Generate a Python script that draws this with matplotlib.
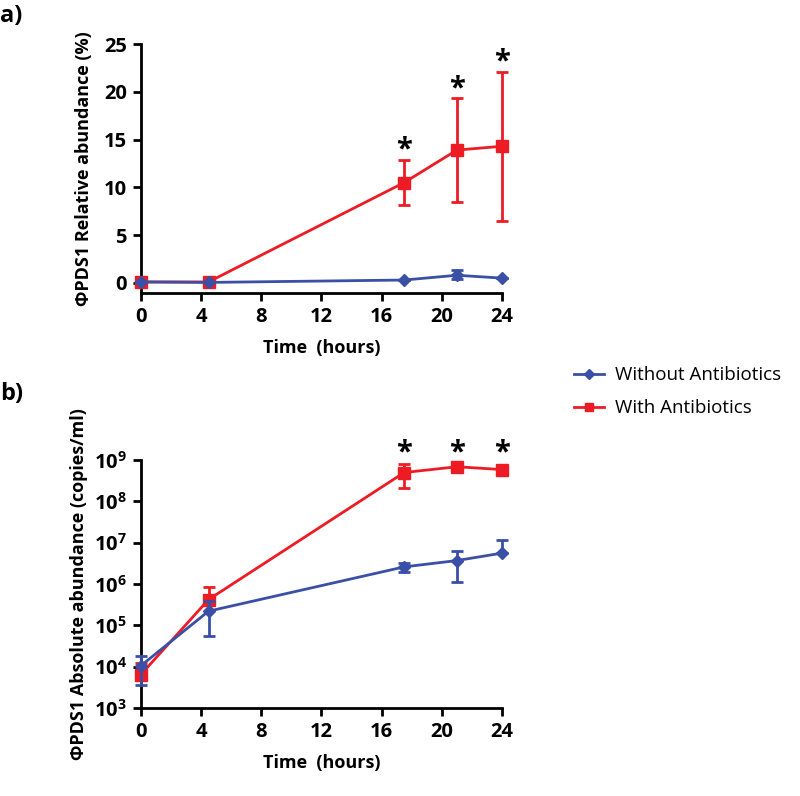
import matplotlib.pyplot as plt
from matplotlib.lines import Line2D

plt.rcParams['font.family'] = ['Open Sans', 'DejaVu Sans']
plt.rcParams['mathtext.fontset'] = 'custom'
plt.rcParams['mathtext.bf'] = 'Open Sans:bold'
plt.rcParams['mathtext.rm'] = 'Open Sans'

time = [0, 4.5, 17.5, 21, 24]

# a) relative abundance (%)
rel_with = [0.1, 0.1, 10.5, 13.9, 14.3]
rel_with_lo = [0.1, 0.1, 8.1, 8.5, 6.5]
rel_with_hi = [0.1, 0.1, 12.9, 19.3, 22.1]
rel_without = [0.1, 0.05, 0.3, 0.8, 0.5]
rel_without_lo = [0.1, 0.05, 0.3, 0.4, 0.5]
rel_without_hi = [0.1, 0.05, 0.3, 1.3, 0.5]

# b) absolute abundance (copies/ml)
abs_with = [6.4e3, 4.2e5, 5.0e8, 6.9e8, 5.9e8]
abs_with_lo = [5.0e3, 3.2e5, 2.1e8, 6.9e8, 5.9e8]
abs_with_hi = [1.25e4, 8.7e5, 8.0e8, 6.9e8, 5.9e8]
abs_without = [1.05e4, 2.2e5, 2.6e6, 3.7e6, 5.6e6]
abs_without_lo = [3.5e3, 5.6e4, 2.0e6, 1.15e6, 5.6e6]
abs_without_hi = [1.8e4, 3.8e5, 3.3e6, 6.3e6, 1.17e7]

star_idx = [2, 3, 4]

red = '#ED1C24'
blue = '#3A4FA6'

fig = plt.figure(figsize=(8, 7.96), dpi=100)
ax1 = fig.add_axes([0.176, 0.632, 0.4515, 0.3127])
ax2 = fig.add_axes([0.176, 0.1106, 0.4515, 0.3114])


def errs(v, lo, hi):
    return [[a - b for a, b in zip(v, lo)], [b - a for a, b in zip(v, hi)]]


def style(ax):
    for s in ['top', 'right']:
        ax.spines[s].set_visible(False)
    for s in ['left', 'bottom']:
        ax.spines[s].set_linewidth(2)
    ax.tick_params(width=2, length=6, labelsize=14.5, pad=4)
    ax.tick_params(which='minor', length=0)
    for lab in ax.get_xticklabels() + ax.get_yticklabels():
        lab.set_fontweight('bold')
    ax.set_xlim(0, 24)
    ax.set_xticks([0, 4, 8, 12, 16, 20, 24])
    ax.set_xlabel('Time  (hours)', fontsize=13, fontweight='bold', labelpad=9)


for ax, w, wlo, whi, wo, wolo, wohi in [
        (ax1, rel_with, rel_with_lo, rel_with_hi, rel_without, rel_without_lo, rel_without_hi),
        (ax2, abs_with, abs_with_lo, abs_with_hi, abs_without, abs_without_lo, abs_without_hi)]:
    ax.errorbar(time, w, yerr=errs(w, wlo, whi), color=red, marker='s', ms=8,
                lw=2, elinewidth=2, capsize=4, capthick=2, clip_on=False, zorder=3)
    ax.errorbar(time, wo, yerr=errs(wo, wolo, wohi), color=blue, marker='D', ms=6,
                lw=2, elinewidth=2, capsize=4, capthick=2, clip_on=False, zorder=4)

ax1.set_ylim(-1.05, 25)
ax1.set_yticks([0, 5, 10, 15, 20, 25])
ax1.set_ylabel('ΦPDS1 Relative abundance (%)', fontsize=13, fontweight='bold', labelpad=8)
style(ax1)
for i in star_idx:
    ax1.text(time[i], rel_with_hi[i] + 1.0, '*', ha='center', va='center',
             fontsize=21, fontweight='bold')

ax2.set_yscale('log')
ax2.set_ylim(1e3, 1e9)
ax2.set_yticks([10.0 ** k for k in range(3, 10)])
ax2.set_yticklabels([r'$\mathbf{10^{%d}}$' % k for k in range(3, 10)])
ax2.set_ylabel('ΦPDS1 Absolute abundance (copies/ml)', fontsize=13, fontweight='bold', labelpad=4)
style(ax2)
for i in star_idx:
    ax2.text(time[i], 1.5e9, '*', ha='center', va='center',
             fontsize=21, fontweight='bold')

fig.text(0.0, 0.995, 'a)', fontsize=17, fontweight='bold', va='top')
fig.text(0.0, 0.52, 'b)', fontsize=17, fontweight='bold', va='top')

handles = [Line2D([], [], color=blue, marker='D', ms=5, lw=2),
           Line2D([], [], color=red, marker='s', ms=6, lw=2)]
fig.legend(handles, ['Without Antibiotics', 'With Antibiotics'], loc='center left',
           bbox_to_anchor=(0.696, 0.508), frameon=False, fontsize=13.5,
           handlelength=1.6, handletextpad=0.6, labelspacing=0.8)

fig.savefig('out.png', dpi=100)
